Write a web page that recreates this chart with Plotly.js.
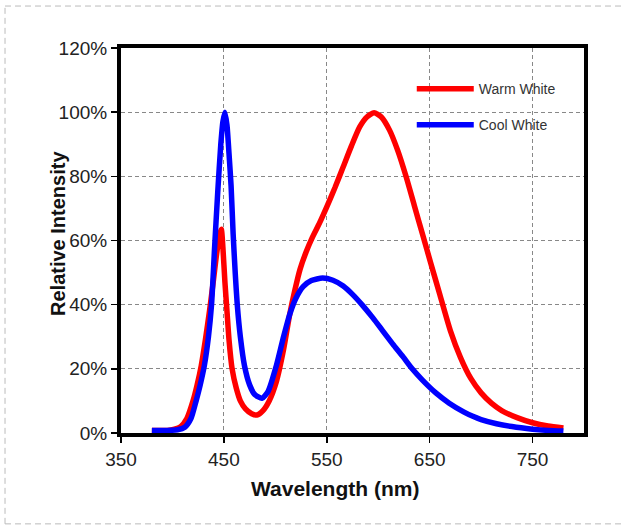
<!DOCTYPE html>
<html>
<head>
<meta charset="utf-8">
<script src="https://cdn.plot.ly/plotly-3.0.1.min.js"></script>
<style>
  html, body { margin: 0; padding: 0; background: #fff; }
  #chart { width: 625px; height: 529px; }
</style>
</head>
<body>
<div id="chart"></div>
<script>
// Warm White spectrum (wavelength nm, relative intensity)
const warmWavelength = [380, 395, 402, 408, 414, 420, 424, 428, 432, 436, 440, 443, 446, 447.5, 449, 451, 453, 455, 458, 462, 466, 471, 477, 482, 488, 494, 501, 508, 514, 519, 524, 530, 536, 543, 550, 558, 566, 574, 582, 589, 596, 603, 611, 619, 627, 635, 643, 651, 660, 670, 680, 690, 700, 710, 720, 735, 750, 765, 780];
const warmIntensity  = [0.008, 0.008, 0.012, 0.02, 0.045, 0.10, 0.15, 0.21, 0.29, 0.38, 0.48, 0.56, 0.62, 0.635, 0.58, 0.47, 0.38, 0.29, 0.20, 0.14, 0.10, 0.075, 0.06, 0.056, 0.07, 0.10, 0.16, 0.26, 0.37, 0.445, 0.51, 0.565, 0.61, 0.655, 0.705, 0.765, 0.83, 0.895, 0.954, 0.985, 0.998, 0.985, 0.944, 0.88, 0.80, 0.71, 0.62, 0.53, 0.43, 0.32, 0.235, 0.17, 0.125, 0.093, 0.07, 0.048, 0.032, 0.022, 0.016];

// Cool White spectrum
const coolWavelength = [380, 395, 405, 412, 418, 423, 427, 431, 435, 438, 441, 444, 447, 449, 451, 453, 455, 457, 459, 461, 463, 466, 470, 475, 480, 487, 493, 501, 508, 514, 520, 527, 535, 546, 556, 566, 575, 585, 595, 604, 614, 624, 633, 643, 656, 669, 683, 692, 700, 715, 730, 750, 765, 780];
const coolIntensity  = [0.008, 0.008, 0.01, 0.018, 0.045, 0.10, 0.15, 0.21, 0.30, 0.40, 0.58, 0.75, 0.90, 0.97, 1.00, 0.96, 0.87, 0.77, 0.62, 0.50, 0.40, 0.30, 0.21, 0.15, 0.12, 0.108, 0.13, 0.21, 0.30, 0.37, 0.42, 0.456, 0.475, 0.483, 0.476, 0.458, 0.432, 0.397, 0.358, 0.32, 0.278, 0.238, 0.20, 0.165, 0.125, 0.093, 0.066, 0.052, 0.042, 0.029, 0.02, 0.012, 0.008, 0.006];

const xTicks = [350, 450, 550, 650, 750];
const yTicks = [0, 0.2, 0.4, 0.6, 0.8, 1.0, 1.2];

const seriesNames = ['Warm White', 'Cool White'];
const seriesColors = ['#ff0000', '#0000ff'];
const xTitle = 'Wavelength (nm)';
const yTitle = 'Relative Intensity';

const traces = [
  {x: warmWavelength, y: warmIntensity, name: seriesNames[0], legendgroup: 'a',
   type: 'scatter', mode: 'lines', line: {color: seriesColors[0], width: 5.5, shape: 'spline', smoothing: 0.6}},
  {x: coolWavelength, y: coolIntensity, name: seriesNames[1], legendgroup: 'b',
   type: 'scatter', mode: 'lines', line: {color: seriesColors[1], width: 5.5, shape: 'spline', smoothing: 0.6}}
];

const font = 'Liberation Sans, Arial, sans-serif';

const layout = {
  width: 625, height: 529,
  margin: {l: 121, r: 41, t: 48, b: 96},
  paper_bgcolor: '#ffffff', plot_bgcolor: '#ffffff',
  showlegend: true,
  legend: {
    x: 0.628, y: 0.935, xanchor: 'left', yanchor: 'top',
    bgcolor: 'rgba(0,0,0,0)', borderwidth: 0,
    font: {family: font, size: 14, color: '#333'},
    tracegroupgap: 15, itemwidth: 57
  },
  xaxis: {
    range: [350, 800], tickvals: xTicks, ticktext: xTicks.map(String),
    showline: true, linecolor: '#000', linewidth: 4, mirror: true,
    ticks: 'outside', ticklen: 6, tickwidth: 1.5, tickcolor: '#000',
    showgrid: true, gridcolor: '#888', gridwidth: 1, griddash: '4px,3px',
    zeroline: false,
    tickfont: {family: font, size: 19, color: '#222'}
  },
  yaxis: {
    range: [0, 1.2], tickvals: yTicks, tickformat: '.0%',
    showline: true, linecolor: '#000', linewidth: 4, mirror: true,
    ticks: 'outside', ticklen: 6, tickwidth: 1.5, tickcolor: '#000',
    showgrid: true, gridcolor: '#888', gridwidth: 1, griddash: '4px,3px',
    zeroline: false,
    tickfont: {family: font, size: 19, color: '#222'}
  },
  annotations: [
    {text: '<b>' + xTitle + '</b>', xref: 'paper', yref: 'paper', x: 0.462, y: -0.143,
     xanchor: 'center', yanchor: 'middle', showarrow: false,
     font: {family: font, size: 21, color: '#111'}},
    {text: '<b>' + yTitle + '</b>', xref: 'paper', yref: 'paper', x: -0.136, y: 0.517,
     xanchor: 'center', yanchor: 'middle', showarrow: false, textangle: -90,
     font: {family: font, size: 20, color: '#111'}}
  ],
  shapes: [
    {type: 'line', xref: 'paper', yref: 'paper', x0: -0.2505, x1: 1.09, y0: 1.109, y1: 1.109,
     line: {color: '#bbb', width: 1, dash: '6px,4px'}},
    {type: 'line', xref: 'paper', yref: 'paper', x0: -0.2505, x1: 1.09, y0: -0.236, y1: -0.236,
     line: {color: '#bbb', width: 1, dash: '6px,4px'}},
    {type: 'line', xref: 'paper', yref: 'paper', x0: -0.2505, x1: -0.2505, y0: -0.236, y1: 1.109,
     line: {color: '#bbb', width: 1, dash: '6px,4px'}}
  ]
};

Plotly.newPlot('chart', traces, layout, {staticPlot: true, displayModeBar: false});
</script>
</body>
</html>
